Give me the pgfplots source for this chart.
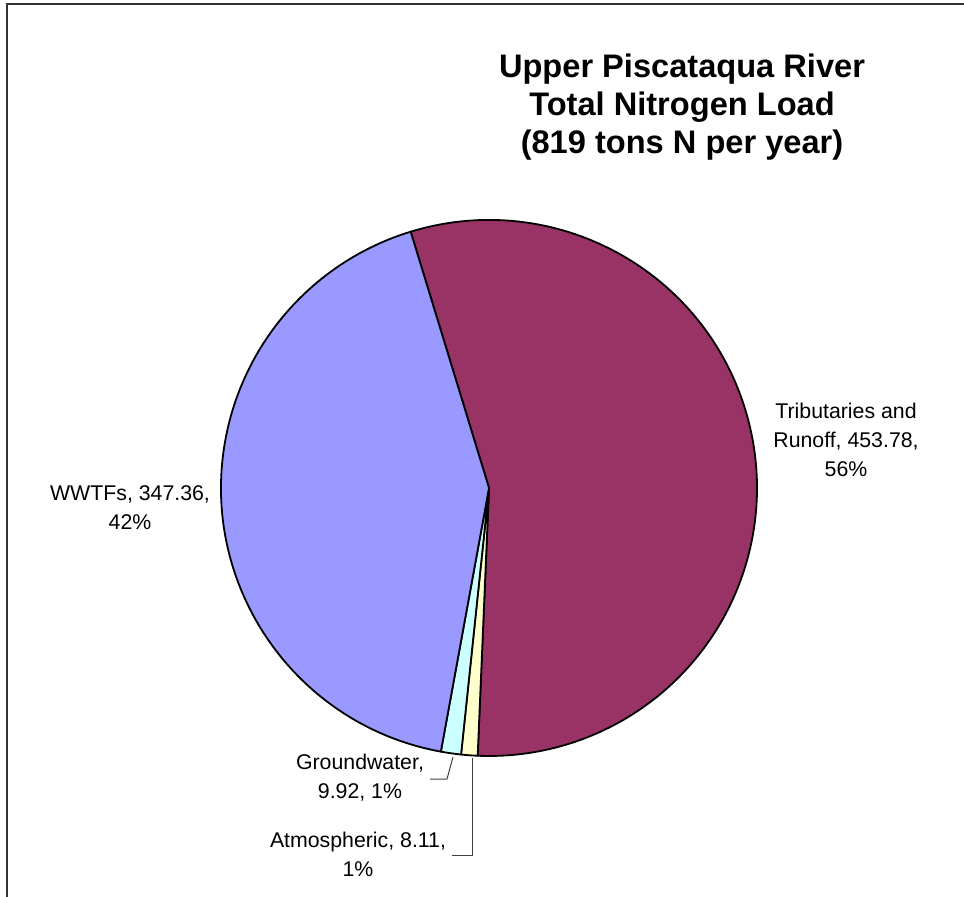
\documentclass[border=0pt]{standalone}
\usepackage{pgfplots}
\usepackage{pgfplotstable}
\usepackage{fontspec}
\setmainfont{Liberation Sans}
\pgfplotsset{compat=1.18}

\definecolor{trib}{HTML}{993366}
\definecolor{atmo}{HTML}{FFFFCC}
\definecolor{grnd}{HTML}{CCFFFF}
\definecolor{wwtf}{HTML}{9999FF}

% slices in clockwise order, starting at 107 deg
\pgfplotstableread{
name value col
Tributaries 453.78 trib
Atmospheric 8.11 atmo
Groundwater 9.92 grnd
WWTFs 347.36 wwtf
}\piedata

\begin{document}
\begin{tikzpicture}
\begin{axis}[
    width=482pt,
    height=448.5pt,
    scale only axis,
    xmin=0, xmax=964,
    ymin=0, ymax=897,
    y dir=reverse,
    hide axis,
    clip=false
]
% chart frame (cut on the right and bottom)
\draw[black!80,line width=1.3pt] (axis cs:7,900) -- (axis cs:7,4) -- (axis cs:968,4);

% total of the series
\def\total{0}
\pgfplotsforeachungrouped \i in {0,...,3}{%
  \pgfplotstablegetelem{\i}{value}\of\piedata
  \pgfmathsetmacro\total{\total+\pgfplotsretval}%
}
% wedges
\def\angA{107}
\pgfplotsforeachungrouped \i in {0,...,3}{%
  \pgfplotstablegetelem{\i}{value}\of\piedata \let\v\pgfplotsretval
  \pgfplotstablegetelem{\i}{col}\of\piedata \let\c\pgfplotsretval
  \pgfmathsetmacro\frac{\v/\total}%
  \pgfmathsetmacro\angB{\angA-360*\frac}%
  \edef\temp{\noexpand\filldraw[fill=\c,draw=black,line width=0.9pt,line join=round]
    (axis cs:489,488) -- ++(\angA:134pt) arc[start angle=\angA,end angle=\angB,radius=134pt] -- cycle;}%
  \temp
  \let\angA\angB
}

% leader lines
\draw[black!75,line width=0.5pt] (axis cs:453,757) -- (axis cs:447,779) -- (axis cs:430,779);
\draw[black!75,line width=0.5pt] (axis cs:472,758) -- (axis cs:472,855) -- (axis cs:452,855);

% title
\node[align=center,font=\fontsize{16.3}{19}\selectfont\bfseries] at (axis cs:682,107)
  {Upper Piscataqua River\\Total Nitrogen Load\\(819 tons N per year)};

% data labels
\node[align=center,font=\fontsize{10.65}{14.5}\selectfont] at (axis cs:846,440)
  {Tributaries and\\Runoff, 453.78,\\56\%};
\node[align=center,font=\fontsize{10.65}{14.5}\selectfont] at (axis cs:130,508)
  {WWTFs, 347.36,\\42\%};
\node[align=center,font=\fontsize{10.65}{14.5}\selectfont] at (axis cs:360,778)
  {Groundwater,\\9.92, 1\%};
\node[align=center,font=\fontsize{10.65}{14.5}\selectfont] at (axis cs:358,854)
  {Atmospheric, 8.11,\\1\%};
\end{axis}
\pgfresetboundingbox
\path (current axis.south west) rectangle (current axis.north east);
\end{tikzpicture}
\end{document}
